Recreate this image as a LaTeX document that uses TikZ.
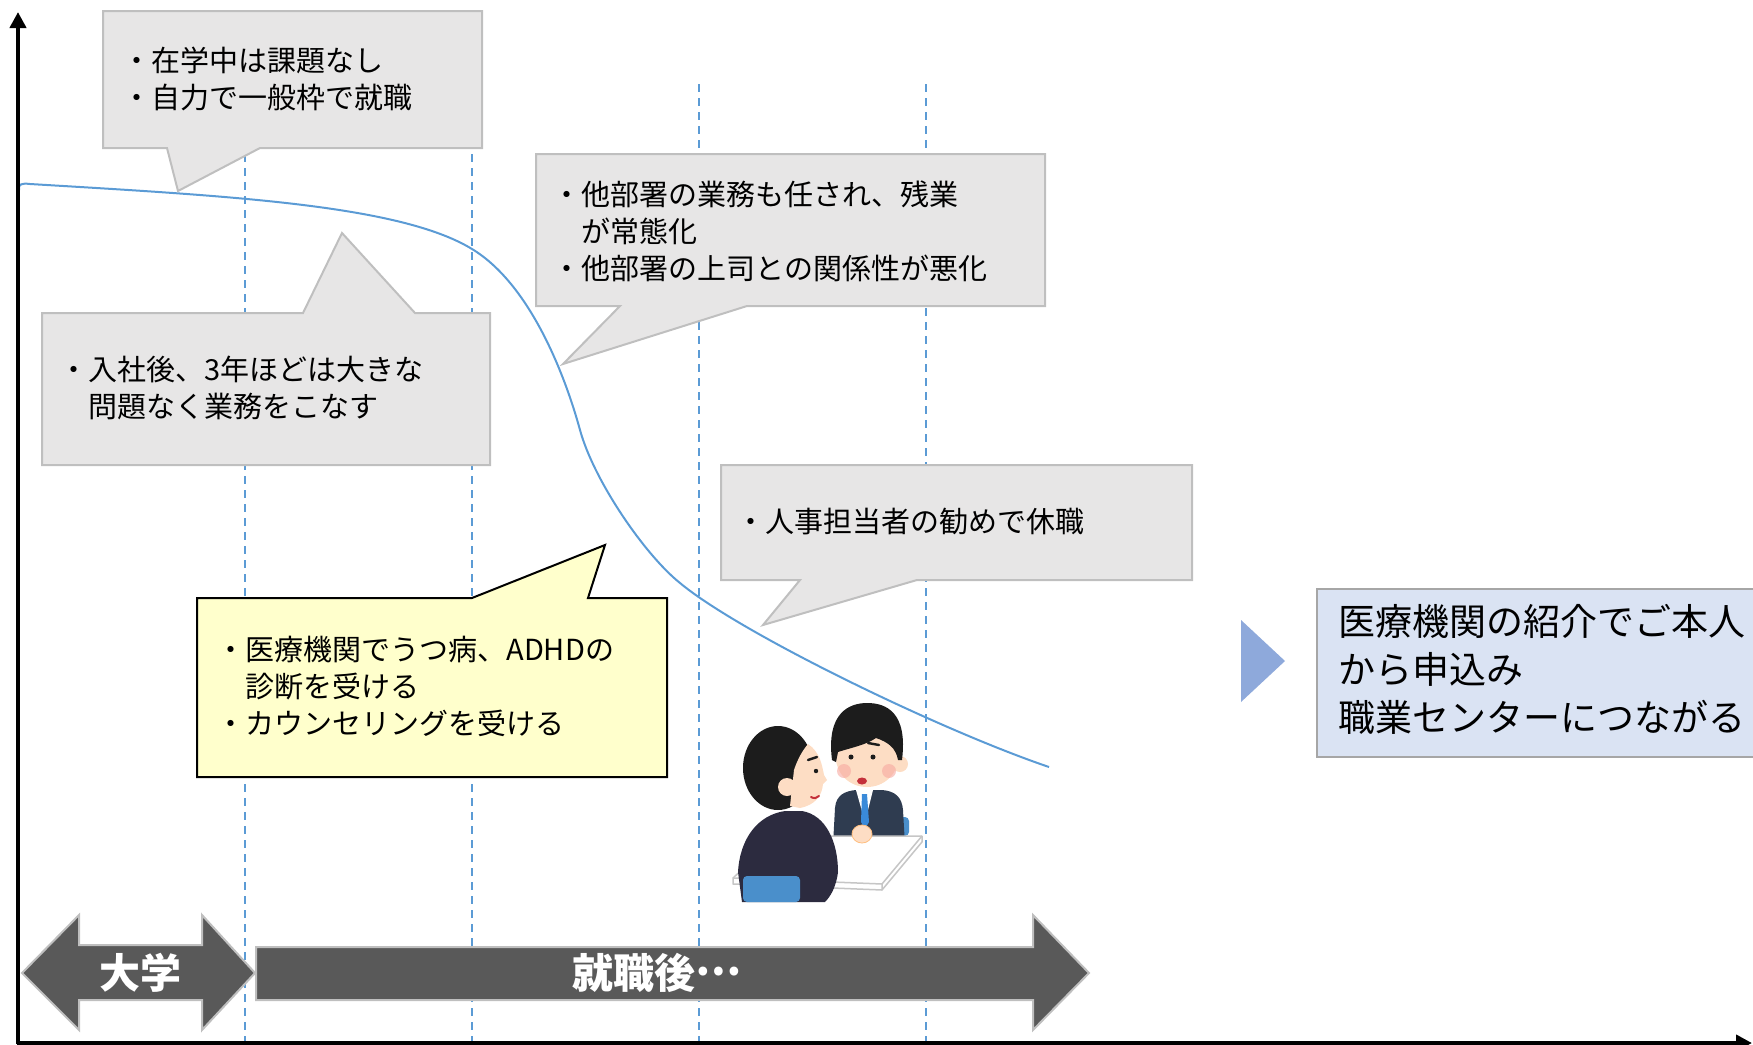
\documentclass[tikz,border=0pt]{standalone}
\usepackage{fontspec}
\setmainfont{Noto Sans CJK JP}
\usetikzlibrary{arrows.meta}

\definecolor{notegray}{HTML}{E7E6E6}
\definecolor{edgegray}{HTML}{BFBFBF}
\definecolor{edgedark}{HTML}{A6A6A6}
\definecolor{noteyellow}{HTML}{FFFFCC}
\definecolor{resultblue}{HTML}{DAE3F3}
\definecolor{markblue}{HTML}{8EA9DB}
\definecolor{lineblue}{HTML}{5B9BD5}
\definecolor{bargray}{HTML}{595959}
\definecolor{skin}{HTML}{FDDDC4}
\definecolor{hair}{HTML}{1C1C1C}
\definecolor{suitnavy}{HTML}{2C2B3F}
\definecolor{suitslate}{HTML}{2F3C50}
\definecolor{chairblue}{HTML}{4A8FCB}
\definecolor{tieblue}{HTML}{3A8AD9}
\definecolor{lipred}{HTML}{C4303A}
\definecolor{cheek}{HTML}{F7A8A0}

\begin{document}
\begin{tikzpicture}[x=0.5pt,y=-0.5pt,
  every node/.style={inner sep=0pt,align=left,anchor=west},
  note/.style={font=\fontsize{14.5}{18.5}\selectfont},
  bignote/.style={font=\fontsize{18.5}{24}\selectfont},
  bartext/.style={anchor=center,text=white,font=\fontsize{20.5}{22}\selectfont\bfseries},
  bubble/.style={fill=notegray,draw=edgegray,line width=1pt,line join=miter},
  guide/.style={lineblue,line width=0.75pt,dash pattern=on 4pt off 3pt},
  bar/.style={fill=bargray,draw=edgegray,line width=1pt}]
 \useasboundingbox (0,0) rectangle (1753,1045);

 % time grid
 \foreach \x in {245,472,699,926}
   \draw[guide] (\x,84) -- (\x,1043);

 % condition curve
 \draw[lineblue,line width=1pt] (19,190) .. controls (18,184) and (22,183) .. (30,184)
   .. controls (230,196) and (400,205) .. (472,249)
   .. controls (530,284) and (565,375) .. (580,430)
   .. controls (594,481) and (645,555) .. (680,583)
   .. controls (740,633) and (940,730) .. (1049,767);

 % speech bubbles
 \path[bubble] (103,11) -- (482,11) -- (482,148) -- (260,148) -- (178,191)
   -- (167,148) -- (103,148) -- cycle;
 \path[bubble] (42,313) -- (303,313) -- (342,233) -- (415,313) -- (490,313)
   -- (490,465) -- (42,465) -- cycle;
 \path[bubble] (536,154) -- (1045,154) -- (1045,306) -- (747,306) -- (563,364)
   -- (620,306) -- (536,306) -- cycle;
 \path[bubble] (721,465) -- (1192,465) -- (1192,580) -- (917,580) -- (763,625)
   -- (800,580) -- (721,580) -- cycle;
 \path[bubble,fill=noteyellow,draw=black] (197,598) -- (472,598) -- (605,545)
   -- (588,598) -- (667,598) -- (667,777) -- (197,777) -- cycle;

 \node[note] (school) at (122,79) {・在学中は課題なし\\・自力で一般枠で就職};
 \node[note] (early) at (59,388) {・入社後、3年ほどは大きな\\\phantom{・}問題なく業務をこなす};
 \node[note] (overwork) at (552,231) {・他部署の業務も任され、残業\\\phantom{・}が常態化\\・他部署の上司との関係性が悪化};
 \node[note] (leave) at (736,522) {・人事担当者の勧めで休職};
 \node[note] (clinic) at (216,686) {・医療機関でうつ病、ADHDの\\\phantom{・}診断を受ける\\・カウンセリングを受ける};

 % outcome
 \fill[markblue] (1241,620) -- (1285,661) -- (1241,702) -- cycle;
 \path[fill=resultblue,draw=edgedark,line width=1pt] (1317,589) rectangle (1765,757);
 \node[bignote] (referral) at (1338,669) {医療機関の紹介でご本人\\から申込み\\職業センターにつながる};

 % counselling scene
 \fill[chairblue,rounded corners=2pt] (899,817) rectangle (909,836);
 \fill[suitslate] (833,845) -- (835,808) .. controls (836,795) and (845,791) .. (856,790)
   -- (882,790) .. controls (895,791) and (902,797) .. (903,810) -- (905,845) -- cycle;
 \fill[white] (856,790) -- (873,790) -- (865,822) -- cycle;
 \fill[tieblue] (862,794) -- (867,794) -- (869,822) -- (865,829) -- (861,822) -- cycle;
 \fill[skin] (900,764) circle (8);
 \fill[skin] (867,758) ellipse (31 and 29);
 \fill[hair] (832,760) .. controls (826,712) and (850,703) .. (867,703)
   .. controls (886,703) and (908,712) .. (902,760) -- (898,760)
   .. controls (896,748) and (888,742) .. (876,738)
   .. controls (866,745) and (850,748) .. (838,752) -- (836,762) -- cycle;
 \fill[cheek,opacity=0.6] (844,771) circle (7) (889,771) circle (7);
 \fill[hair] (851,757) circle (2.5) (873,757) circle (2.5);
 \draw[hair,line width=1.2pt,line cap=round] (844,745) -- (855,743) (868,743) -- (879,745);
 \fill[lipred] (862,781) ellipse (5 and 3.5);

 \filldraw[fill=white,draw=gray!45,line width=0.75pt,line join=round] (733,878) -- (733,884)
   -- (882,890) -- (922,842) -- (922,836) -- (778,836) -- cycle;
 \draw[gray!45,line width=0.75pt] (733,878) -- (882,884) -- (922,836) (882,884) -- (882,890);
 \filldraw[fill=skin,draw=orange!50,line width=0.4pt] (862,834) ellipse (10 and 9);

 \fill[hair] (778,768) ellipse (35 and 42);
 \fill[skin] (808,744) .. controls (820,752) and (822,765) .. (824,775) -- (827,780)
   -- (823,784) .. controls (822,796) and (815,805) .. (800,808) -- (790,806)
   -- (794,770) .. controls (798,758) and (803,750) .. (808,744) -- cycle;
 \fill[skin] (787,787) circle (9);
 \fill[hair] (816,771) circle (2.2);
 \draw[hair,line width=1.2pt,line cap=round] (808,760) -- (817,757);
 \draw[lipred,line width=1pt,line cap=round] (811,797) .. controls (814,799) and (817,798) .. (819,796);
 \fill[suitnavy] (738,872) .. controls (740,838) and (758,815) .. (785,811) -- (802,811)
   .. controls (826,815) and (838,842) .. (838,872) .. controls (836,888) and (830,897) .. (825,902)
   -- (742,902) -- cycle;
 \fill[chairblue,rounded corners=2pt] (743,876) rectangle (800,902);

 % periods
 \path[bar] (22,973) -- (79,915) -- (79,945) -- (202,945) -- (202,915) -- (255,973)
   -- (202,1030) -- (202,1000) -- (79,1000) -- (79,1030) -- cycle;
 \path[bar] (256,947) -- (1033,947) -- (1033,915) -- (1089,973) -- (1033,1030)
   -- (1033,1000) -- (256,1000) -- cycle;
 \node[bartext] (uni) at (140,973) {大学};
 \node[bartext] (work) at (657,973) {就職後\raisebox{0.33em}{…}};

 % axes
 \draw[line width=2pt,-{Triangle[length=8pt,width=8pt]}] (18,1044) -- (18,12);
 \draw[line width=2pt,-{Triangle[length=8pt,width=8pt]}] (17,1043) -- (1752,1043);
\end{tikzpicture}
\end{document}
